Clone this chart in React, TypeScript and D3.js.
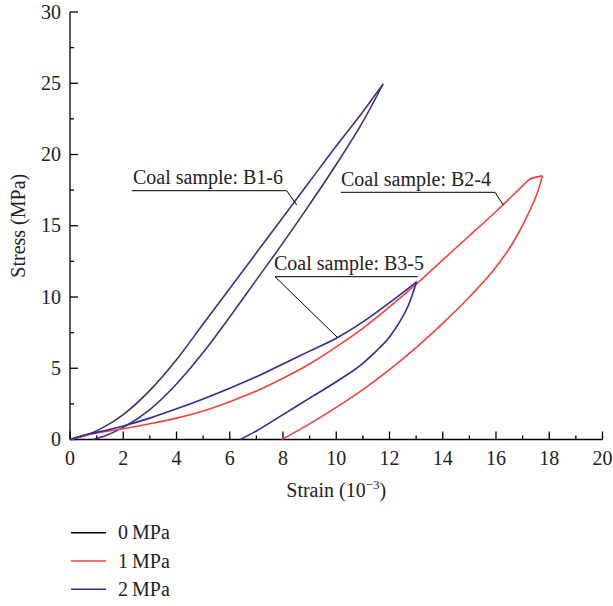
import React from "react";
import * as d3 from "d3";

// strain (10^-3), stress (MPa); each branch in ascending strain
const b16Load: [number, number][] = [
  [0, 0], [0.6, 0.3], [1.2, 0.8], [2, 1.75], [3, 3.45], [4, 5.6], [5, 8.1], [6, 10.6],
  [7, 13.1], [8, 15.6], [9, 18.1], [10, 20.6], [11, 23.0], [11.76, 24.95],
];
const b16Unload: [number, number][] = [
  [0.85, 0], [1.3, 0.25], [2, 0.85], [3, 2.1], [4, 3.9], [5, 6.1], [6, 8.6], [7, 11.2],
  [8, 13.8], [9, 16.5], [10, 19.3], [11, 22.3], [11.76, 24.95],
];
const b24Load: [number, number][] = [
  [0, 0], [0.5, 0.25], [1, 0.45], [2, 0.75], [3, 1.1], [4, 1.5], [5, 2.0], [6, 2.65],
  [7, 3.4], [8, 4.3], [9, 5.3], [10, 6.5], [11, 7.8], [12, 9.3], [13, 10.9], [14, 12.6],
  [15, 14.3], [16, 16.0], [17, 17.8], [17.25, 18.25], [17.75, 18.5],
];
const b24Unload: [number, number][] = [
  [7.95, 0], [9, 1.1], [10, 2.25], [11, 3.5], [12, 4.9], [13, 6.45], [14, 8.15], [15, 10.0],
  [16, 12.1], [16.7, 14.0], [17.2, 15.8], [17.55, 17.3], [17.75, 18.5],
];
const b35Load: [number, number][] = [
  [0, 0], [0.5, 0.3], [1, 0.5], [2, 0.95], [3, 1.5], [4, 2.15], [5, 2.85], [6, 3.6],
  [7, 4.4], [8, 5.3], [9, 6.2], [10, 7.1], [11, 8.25], [12, 9.6], [13.02, 11.07],
];
const b35Unload: [number, number][] = [
  [6.4, 0], [7, 0.6], [8, 1.75], [9, 2.9], [10, 4.05], [11, 5.35], [11.5, 6.2], [12, 7.2],
  [12.4, 8.3], [12.75, 9.6], [13.02, 11.07],
];

const xTicks = [0, 2, 4, 6, 8, 10, 12, 14, 16, 18, 20];
const yTicks = [0, 5, 10, 15, 20, 25, 30];
const legendLabels = ["0\u2009MPa", "1\u2009MPa", "2\u2009MPa"];
const legendColors = ["#000000", "#f0433a", "#33299a"];

const purple = "#4a2c78";
const red = "#f0433a";
const blue = "#33299a";
const font = "'Liberation Serif', 'DejaVu Serif', serif";

export default function App() {
  const width = 613;
  const height = 606;
  const x = d3.scaleLinear().domain([0, 20]).range([70, 602.5]);
  const y = d3.scaleLinear().domain([0, 30]).range([439.5, 12]);
  const line = d3
    .line<[number, number]>()
    .x((d) => x(d[0]))
    .y((d) => y(d[1]))
    .curve(d3.curveMonotoneX);

  const curves = [
    { d: b16Load, c: purple },
    { d: b16Unload, c: purple },
    { d: b24Load, c: red },
    { d: b24Unload, c: red },
    { d: b35Load, c: blue },
    { d: b35Unload, c: blue },
  ];

  const xMinor = d3.range(1, 20, 2);
  const yMinor = d3.range(2.5, 30, 5);

  // B3-5 peak, end of its underline
  const p35 = b35Load[b35Load.length - 1];

  return (
    <svg width={width} height={height} style={{ position: "absolute", left: 0, top: 0 }} fontFamily={font}>
      {/* axes */}
      <g stroke="#000" strokeWidth={1.3}>
        <line x1={x(0)} x2={x(20)} y1={y(0)} y2={y(0)} />
        <line x1={x(0)} x2={x(0)} y1={y(0)} y2={y(30)} />
        {xTicks.map((t) => (
          <line key={"xt" + t} x1={x(t)} x2={x(t)} y1={y(0)} y2={y(0) - 8} />
        ))}
        {xMinor.map((t) => (
          <line key={"xm" + t} x1={x(t)} x2={x(t)} y1={y(0)} y2={y(0) - 4} />
        ))}
        {yTicks.map((t) => (
          <line key={"yt" + t} x1={x(0)} x2={x(0) + 8} y1={y(t)} y2={y(t)} />
        ))}
        {yMinor.map((t) => (
          <line key={"ym" + t} x1={x(0)} x2={x(0) + 4} y1={y(t)} y2={y(t)} />
        ))}
      </g>
      <g fontSize={20} fill="#222">
        {xTicks.map((t) => (
          <text key={"xl" + t} x={x(t)} y={464.5} textAnchor="middle">
            {t}
          </text>
        ))}
        {yTicks.map((t) => (
          <text key={"yl" + t} x={61} y={y(t) + 6.5} textAnchor="end">
            {t}
          </text>
        ))}
        <text x={x(10)} y={497} textAnchor="middle">
          Strain (10
          <tspan dy={-8} fontSize={13}>−3</tspan>
          <tspan dy={8}>)</tspan>
        </text>
        <text transform={`translate(25,${(y(0) + y(30)) / 2}) rotate(-90)`} textAnchor="middle">
          Stress (MPa)
        </text>
      </g>

      {/* curves */}
      {curves.map((c, i) => (
        <path key={i} d={line(c.d) ?? ""} fill="none" stroke={c.c} strokeWidth={1.6} />
      ))}

      {/* annotations */}
      <g stroke="#000" strokeWidth={1} fill="none">
        <polyline points={`131.7,190.7 286.7,190.7 296.7,205`} />
        <polyline points={`340.7,192.3 495,192.3 503.3,205`} />
        <polyline points={`337,337 275,276.7 ${x(p35[0]) + 1},276.7`} />
      </g>
      <g fontSize={20} fill="#222">
        <text x={133} y={184}>Coal sample: B1-6</text>
        <text x={341} y={186}>Coal sample: B2-4</text>
        <text x={274} y={270}>Coal sample: B3-5</text>
      </g>

      {/* legend */}
      {legendLabels.map((l, i) => (
        <g key={l} transform={`translate(0,${532.7 + i * 28.3})`}>
          <line x1={71} x2={106} stroke={legendColors[i]} strokeWidth={1.5} />
          <text x={118} y={6.6} fontSize={20} fill="#222">
            {l}
          </text>
        </g>
      ))}
    </svg>
  );
}
